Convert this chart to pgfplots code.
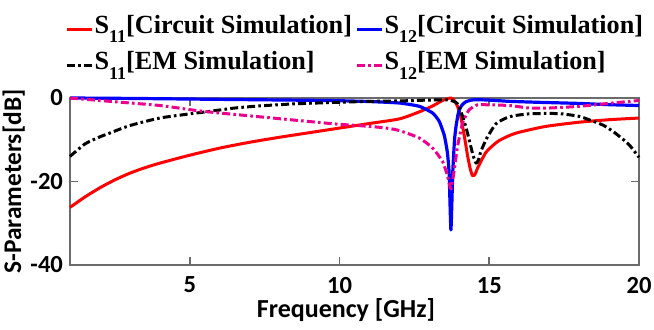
\documentclass[border=0pt]{standalone}
\usepackage{fontspec}
\setmainfont{Liberation Serif}
\newfontfamily\calb{Carlito}[Scale=1.0]
\usepackage{pgfplots}
\pgfplotsset{compat=1.18}
\definecolor{framegray}{rgb}{0.42,0.42,0.42}
\newcommand{\sub}[1]{\raisebox{-4.6bp}{\fontsize{9bp}{9bp}\selectfont #1}}
\tikzset{dashdotx/.style={dash pattern=on 4bp off 1.6bp on 1.3bp off 1.6bp}}
\begin{document}
\begin{tikzpicture}
\begin{axis}[
  name=ax,
  scale only axis,
  width=284.5bp, height=83.5bp,
  xmin=1, xmax=20, ymin=-40, ymax=0,
  xtick={5,10,15,20}, ytick={-40,-20,0},
  tick align=inside,
  major tick length=4bp,
  axis line style={framegray, line width=1bp},
  every tick/.style={framegray, line width=0.8bp},
  clip=false,
  /pgf/number format/assume math mode=true,
  ticklabel style={font=\calb\bfseries\fontsize{12.3bp}{12.3bp}\selectfont},
  xticklabel style={yshift=-2.5bp},
  xlabel={Frequency [GHz]},
  ylabel={S-Parameters[dB]},
  xlabel style={font=\calb\bfseries\fontsize{13bp}{13bp}\selectfont, at={(axis description cs:0.485,-0.315)}, anchor=base},
  ylabel style={font=\calb\bfseries\fontsize{12.7bp}{12.7bp}\selectfont, at={(axis description cs:-0.0668,0.5)}, anchor=south},
  legend columns=2,
  legend cell align=left,
  legend image code/.code={\draw[#1] (0bp,0bp) -- (12.5bp,0bp);},
  legend style={draw=none, fill=none, at={(axis description cs:0,1)}, anchor=north west,
    xshift=-2.5bp, yshift=42bp, inner sep=0pt, row sep=3bp,
    font=\bfseries\fontsize{13.1bp}{13.1bp}\selectfont,
    nodes={inner sep=0.6bp, text height=9bp, text depth=5bp},
    /tikz/every even column/.append style={column sep=1bp}},
]
\addplot[red, line width=1.5bp, line join=round, smooth, tension=0.4] coordinates {
(1,-26.2) (1.5,-23.7) (2,-21.5) (2.5,-19.6) (3,-18.0) (3.5,-16.7) (4,-15.6) (5,-13.7) (6,-12.0) (7,-10.6) (8,-9.4) (9,-8.3) (10,-7.2) (11,-6.1) (12,-5.0) (12.67,-3.3) (13.11,-1.9) (13.44,-0.6) (13.72,0) (13.85,-0.8) (13.94,-2) (14.03,-4) (14.11,-6.8) (14.2,-10.5) (14.28,-14) (14.36,-16.8) (14.44,-18.6) (14.52,-18.3) (14.61,-16.8) (14.75,-14.8) (14.89,-13.0) (15.1,-11.5) (15.33,-10.2) (15.67,-9.0) (16,-8.2) (16.89,-6.8) (18,-5.8) (19,-5.2) (20,-4.8)
};
\addlegendentry{S\sub{11}[Circuit Simulation]}
\addplot[blue, line width=1.6bp, line join=round, smooth, tension=0.3] coordinates {
(1,0) (3,-0.1) (5,-0.25) (7,-0.4) (9,-0.55) (10,-0.65) (11,-0.85) (12,-1.2) (12.67,-2.0) (13.11,-3.6) (13.33,-5.6) (13.5,-9) (13.6,-13) (13.66,-18) (13.72,-31.6) (13.78,-18) (13.84,-10) (13.89,-6.8) (13.95,-4.2) (14,-2.8) (14.1,-1.6) (14.22,-0.9) (14.4,-0.5) (14.56,-0.4) (15,-0.5) (15.67,-0.8) (16.5,-1.0) (18,-1.3) (19,-1.6) (20,-1.8)
};
\addlegendentry{S\sub{12}[Circuit Simulation]}
\addplot[black, line width=1.5bp, line join=round, dashdotx, smooth, tension=0.4] coordinates {
(1,-14) (1.5,-11) (2,-9.3) (2.33,-8.4) (3,-6.6) (4,-4.8) (5,-3.8) (5.67,-3.2) (6.5,-2.4) (7.33,-1.9) (8.5,-1.4) (9.67,-1.1) (11,-0.8) (12,-0.7) (13,-0.5) (13.67,-0.5) (13.94,-1.4) (14.11,-4.4) (14.22,-7) (14.33,-10) (14.45,-13.5) (14.56,-15.6) (14.64,-14.8) (14.72,-12.8) (14.89,-10) (15,-8.6) (15.22,-6.2) (15.5,-5) (15.78,-4.3) (16.33,-3.8) (17,-3.7) (17.44,-3.8) (18,-4.4) (18.33,-5.2) (18.8,-6.5) (19.11,-7.9) (19.4,-9.5) (19.67,-11.2) (20,-14.2)
};
\addlegendentry{S\sub{11}[EM Simulation]}
\addplot[magenta, line width=1.5bp, line join=round, dashdotx, smooth, tension=0.35] coordinates {
(1,0) (2.33,-0.8) (4,-1.8) (5.22,-3.0) (6,-3.6) (7.33,-4.5) (8.5,-5.3) (9.67,-6.1) (10,-6.3) (11,-6.8) (11.56,-7.2) (12,-7.8) (12.67,-9.6) (13.11,-12) (13.44,-15.2) (13.6,-18.5) (13.72,-21.8) (13.83,-17.2) (13.94,-11.6) (14.03,-8.5) (14.11,-6) (14.22,-4.2) (14.33,-2.8) (14.5,-2) (14.67,-1.6) (15.67,-1.8) (16.33,-2.4) (17,-2.4) (18,-2.0) (19.11,-1.2) (20,-0.6)
};
\addlegendentry{S\sub{12}[EM Simulation]}
\end{axis}
\pgfresetboundingbox
\path[use as bounding box] ([shift={(-35bp,-32.5bp)}]ax.south west) rectangle ([shift={(7.5bp,49bp)}]ax.north east);
\end{tikzpicture}
\end{document}
